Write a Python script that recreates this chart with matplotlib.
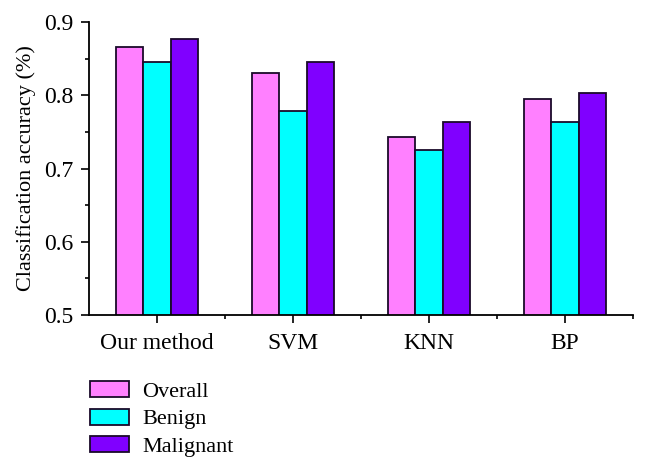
"""
Classification accuracy of four methods, grouped bar chart
"""
import numpy as np
import matplotlib
matplotlib.use("Agg")
import matplotlib.pyplot as plt
from matplotlib.ticker import MultipleLocator, FixedLocator

methods = ["Our method", "SVM", "KNN", "BP"]
series = ["Overall", "Benign", "Malignant"]
overall = [0.866, 0.831, 0.743, 0.795]
benign = [0.846, 0.779, 0.725, 0.763]
malignant = [0.877, 0.845, 0.763, 0.803]
colors = ["#FF80FF", "#00FFFF", "#8000FF"]

plt.rcParams["font.family"] = ["Liberation Serif", "DejaVu Serif"]

fig = plt.figure(figsize=(6.48, 4.71), dpi=100)
ax = fig.add_axes([0.1373, 0.3312, 0.8396, 0.6221])

x = np.arange(len(methods))
w = 0.2
for i, (vals, c, name) in enumerate(zip([overall, benign, malignant], colors, series)):
    ax.bar(x + (i - 1) * w, vals, w, color=c, edgecolor="#1a0a2a",
           linewidth=1.3, label=name, zorder=2)

ax.set_xlim(-0.5, 3.5)
ax.set_ylim(0.5, 0.9)
ax.yaxis.set_major_locator(MultipleLocator(0.1))
ax.yaxis.set_minor_locator(MultipleLocator(0.05))
ax.set_yticklabels([f"{v:.1f}" for v in ax.get_yticks()])
ax.set_xticks(x)
ax.set_xticklabels(methods)
ax.xaxis.set_minor_locator(FixedLocator(x + 0.5))

for s in ["top", "right"]:
    ax.spines[s].set_visible(False)
for s in ["left", "bottom"]:
    ax.spines[s].set_linewidth(1.3)

ax.tick_params(axis="both", which="major", direction="out", length=6, width=1.2,
               labelsize=17)
ax.tick_params(axis="both", which="minor", direction="out", length=3, width=1.2)
ax.tick_params(axis="x", which="major", pad=7)
ax.tick_params(axis="y", which="major", pad=5)
ax.set_ylabel("Classification accuracy (%)", fontsize=16, labelpad=6)

fig.legend(loc="upper left", bbox_to_anchor=(0.125, 0.21), frameon=False,
           fontsize=16, handlelength=1.75, handleheight=0.75, labelspacing=0.3,
           handletextpad=0.6, borderaxespad=0)

fig.savefig("out.png", dpi=100)
